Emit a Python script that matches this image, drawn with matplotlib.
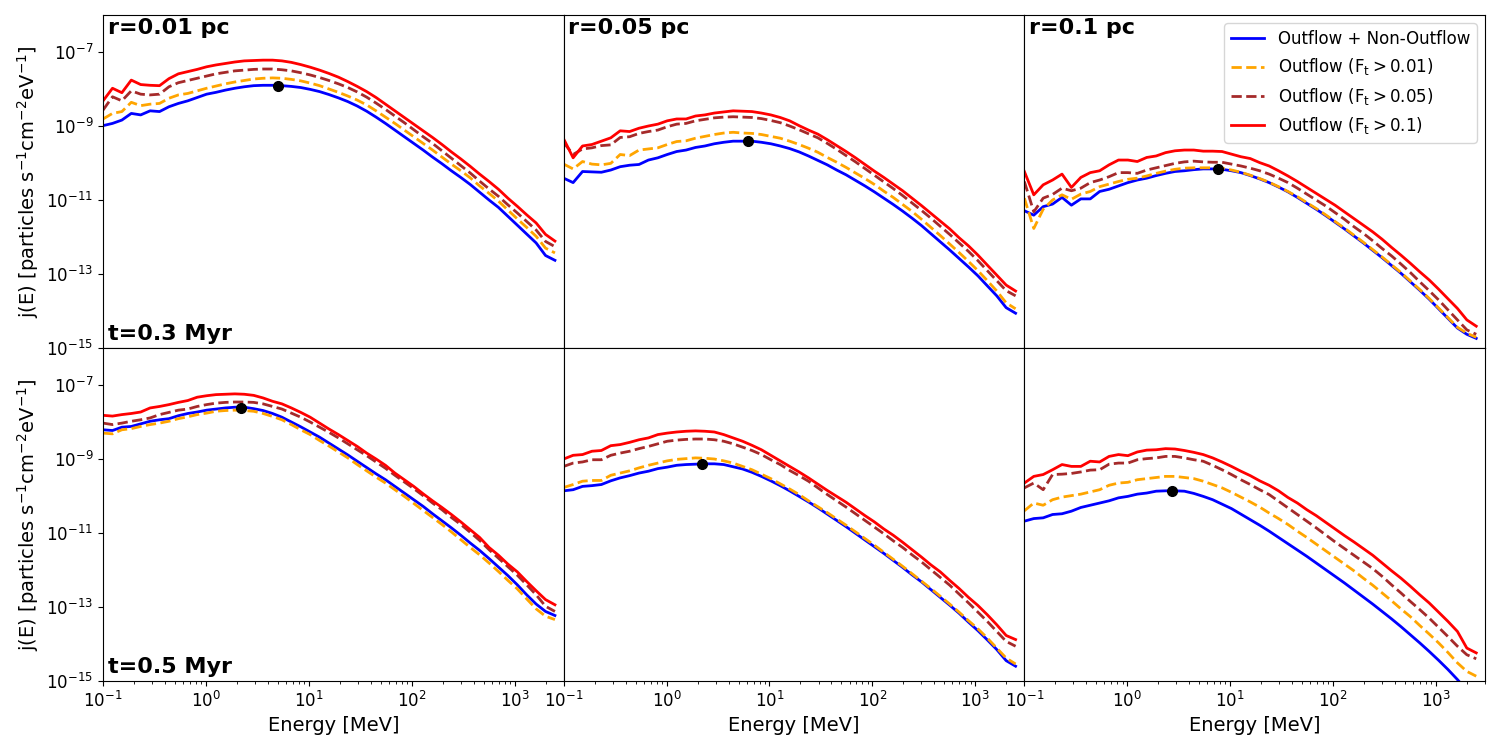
import numpy as np
import matplotlib.pyplot as plt
from matplotlib.ticker import NullLocator

# energy grid [MeV]
energy = [0.1, 0.1235, 0.1524, 0.1881, 0.2323, 0.2867, 0.3540, 0.4370, 0.5395, 0.6660,
          0.8222, 1.015, 1.253, 1.547, 1.910, 2.358, 2.911, 3.593, 4.436, 5.476,
          6.760, 8.346, 10.30, 12.72, 15.70, 19.39, 23.93, 29.54, 36.47, 45.03,
          55.58, 68.62, 84.71, 104.6, 129.1, 159.4, 196.8, 242.9, 299.9, 370.2,
          457.0, 564.2, 696.5, 859.9, 1062, 1310, 1618, 1997, 2466]

# log10 j(E), r=0.01 pc, t=0.3 Myr
r001_t03_all = [-8.99, -8.93, -8.84, -8.66, -8.70, -8.59, -8.61, -8.48, -8.39, -8.32,
                -8.23, -8.14, -8.09, -8.03, -7.98, -7.94, -7.91, -7.90, -7.90, -7.91,
                -7.93, -7.96, -8.01, -8.07, -8.15, -8.24, -8.34, -8.46, -8.60, -8.76,
                -8.93, -9.11, -9.29, -9.47, -9.65, -9.84, -10.02, -10.21, -10.39, -10.58,
                -10.79, -11.00, -11.20, -11.44, -11.68, -11.92, -12.16, -12.50, -12.63]
r001_t03_f001 = [-8.81, -8.66, -8.61, -8.36, -8.45, -8.41, -8.39, -8.25, -8.16, -8.12,
                 -8.05, -7.98, -7.92, -7.86, -7.81, -7.77, -7.73, -7.71, -7.70, -7.71,
                 -7.74, -7.78, -7.84, -7.91, -8.00, -8.09, -8.19, -8.30, -8.43, -8.59,
                 -8.76, -8.93, -9.11, -9.29, -9.47, -9.65, -9.84, -10.03, -10.21, -10.40,
                 -10.62, -10.82, -11.03, -11.27, -11.51, -11.74, -11.98, -12.30, -12.43]
r001_t03_f005 = [-8.57, -8.21, -8.32, -8.05, -8.14, -8.16, -8.14, -7.94, -7.83, -7.77,
                 -7.71, -7.65, -7.59, -7.55, -7.51, -7.49, -7.47, -7.46, -7.46, -7.48,
                 -7.51, -7.56, -7.62, -7.69, -7.77, -7.86, -7.96, -8.08, -8.22, -8.38,
                 -8.55, -8.73, -8.91, -9.10, -9.29, -9.47, -9.67, -9.87, -10.07, -10.27,
                 -10.49, -10.70, -10.90, -11.13, -11.35, -11.58, -11.81, -12.12, -12.26]
r001_t03_f01 = [-8.32, -7.98, -8.10, -7.76, -7.88, -7.90, -7.91, -7.72, -7.59, -7.53,
                -7.47, -7.40, -7.35, -7.31, -7.27, -7.24, -7.23, -7.22, -7.22, -7.24,
                -7.28, -7.34, -7.41, -7.49, -7.58, -7.68, -7.80, -7.93, -8.07, -8.23,
                -8.41, -8.59, -8.77, -8.95, -9.13, -9.31, -9.50, -9.70, -9.89, -10.09,
                -10.30, -10.50, -10.71, -10.95, -11.17, -11.40, -11.62, -11.93, -12.11]

# r=0.05 pc, t=0.3 Myr
r005_t03_all = [-10.41, -10.53, -10.23, -10.24, -10.25, -10.19, -10.10, -10.06, -10.04, -9.92,
                -9.86, -9.77, -9.69, -9.65, -9.58, -9.54, -9.48, -9.44, -9.41, -9.41,
                -9.41, -9.44, -9.48, -9.54, -9.61, -9.70, -9.81, -9.93, -10.05, -10.19,
                -10.32, -10.47, -10.62, -10.78, -10.95, -11.12, -11.30, -11.49, -11.69, -11.91,
                -12.13, -12.35, -12.58, -12.81, -13.05, -13.32, -13.59, -13.91, -14.06]
r005_t03_f001 = [-10.03, -10.16, -9.96, -10.03, -10.05, -10.01, -9.77, -9.80, -9.65, -9.62,
                 -9.59, -9.50, -9.42, -9.40, -9.33, -9.28, -9.23, -9.19, -9.17, -9.19,
                 -9.20, -9.23, -9.28, -9.33, -9.41, -9.50, -9.60, -9.71, -9.85, -9.98,
                 -10.12, -10.27, -10.42, -10.58, -10.76, -10.93, -11.12, -11.31, -11.52, -11.74,
                 -11.96, -12.19, -12.42, -12.66, -12.91, -13.18, -13.46, -13.78, -13.94]
r005_t03_f005 = [-9.45, -9.77, -9.62, -9.59, -9.53, -9.51, -9.31, -9.29, -9.20, -9.15,
                 -9.11, -9.02, -8.95, -8.93, -8.86, -8.82, -8.78, -8.76, -8.75, -8.76,
                 -8.77, -8.80, -8.85, -8.91, -9.00, -9.10, -9.21, -9.32, -9.47, -9.63,
                 -9.80, -9.97, -10.15, -10.33, -10.51, -10.69, -10.88, -11.08, -11.28, -11.49,
                 -11.71, -11.93, -12.16, -12.39, -12.64, -12.91, -13.18, -13.45, -13.59]
r005_t03_f01 = [-9.35, -9.86, -9.54, -9.50, -9.41, -9.32, -9.13, -9.15, -9.06, -9.00,
                -8.95, -8.86, -8.81, -8.81, -8.73, -8.70, -8.65, -8.62, -8.59, -8.60,
                -8.61, -8.65, -8.70, -8.77, -8.86, -8.99, -9.11, -9.22, -9.37, -9.53,
                -9.69, -9.86, -10.04, -10.22, -10.39, -10.57, -10.75, -10.95, -11.15, -11.36,
                -11.57, -11.78, -12.02, -12.24, -12.49, -12.76, -13.03, -13.30, -13.46]

# r=0.1 pc, t=0.3 Myr
r01_t03_all = [-11.29, -11.41, -11.18, -11.11, -10.93, -11.14, -10.97, -10.97, -10.77, -10.71,
               -10.62, -10.53, -10.46, -10.41, -10.34, -10.28, -10.23, -10.21, -10.18, -10.16,
               -10.16, -10.17, -10.21, -10.26, -10.34, -10.43, -10.53, -10.65, -10.78, -10.93,
               -11.09, -11.25, -11.42, -11.60, -11.78, -11.97, -12.16, -12.36, -12.56, -12.77,
               -12.98, -13.21, -13.44, -13.68, -13.94, -14.20, -14.46, -14.63, -14.74]
r01_t03_f001 = [-10.95, -11.77, -11.25, -11.00, -10.86, -10.98, -10.84, -10.77, -10.64, -10.57,
                -10.50, -10.44, -10.41, -10.35, -10.28, -10.22, -10.17, -10.14, -10.13, -10.13,
                -10.13, -10.14, -10.19, -10.25, -10.33, -10.42, -10.52, -10.64, -10.77, -10.91,
                -11.07, -11.23, -11.40, -11.58, -11.76, -11.95, -12.14, -12.34, -12.54, -12.75,
                -12.96, -13.19, -13.42, -13.66, -13.92, -14.18, -14.44, -14.60, -14.71]
r01_t03_f005 = [-10.50, -11.32, -10.95, -10.85, -10.68, -10.75, -10.68, -10.53, -10.46, -10.37,
                -10.26, -10.26, -10.28, -10.19, -10.13, -10.07, -10.01, -9.97, -9.95, -9.97,
                -9.98, -9.98, -10.03, -10.08, -10.14, -10.21, -10.30, -10.41, -10.53, -10.68,
                -10.84, -11.00, -11.16, -11.34, -11.52, -11.72, -11.90, -12.10, -12.31, -12.51,
                -12.73, -12.96, -13.21, -13.45, -13.70, -13.97, -14.24, -14.51, -14.63]
r01_t03_f01 = [-10.23, -10.86, -10.59, -10.46, -10.30, -10.66, -10.39, -10.26, -10.21, -10.05,
               -9.92, -9.92, -9.96, -9.85, -9.81, -9.72, -9.67, -9.65, -9.65, -9.68,
               -9.68, -9.69, -9.76, -9.83, -9.88, -9.99, -10.08, -10.21, -10.35, -10.50,
               -10.66, -10.82, -10.98, -11.14, -11.32, -11.50, -11.68, -11.86, -12.06, -12.28,
               -12.49, -12.71, -12.94, -13.16, -13.41, -13.67, -13.93, -14.24, -14.41]

# r=0.01 pc, t=0.5 Myr
r001_t05_all = [-8.21, -8.23, -8.14, -8.12, -8.05, -7.98, -7.94, -7.91, -7.83, -7.77,
                -7.73, -7.68, -7.65, -7.62, -7.60, -7.60, -7.64, -7.69, -7.77, -7.87,
                -8.00, -8.13, -8.27, -8.41, -8.57, -8.73, -8.89, -9.06, -9.23, -9.40,
                -9.56, -9.74, -9.92, -10.10, -10.28, -10.48, -10.67, -10.86, -11.06, -11.27,
                -11.47, -11.69, -11.92, -12.15, -12.40, -12.67, -12.92, -13.12, -13.23]
r001_t05_f001 = [-8.30, -8.32, -8.21, -8.18, -8.12, -8.07, -8.03, -7.98, -7.91, -7.86,
                 -7.80, -7.76, -7.71, -7.69, -7.68, -7.69, -7.71, -7.77, -7.85, -7.94,
                 -8.07, -8.21, -8.34, -8.50, -8.65, -8.81, -8.97, -9.15, -9.32, -9.49,
                 -9.65, -9.83, -10.01, -10.20, -10.39, -10.58, -10.77, -10.97, -11.18, -11.39,
                 -11.59, -11.81, -12.04, -12.28, -12.51, -12.78, -13.05, -13.25, -13.34]
r001_t05_f005 = [-8.03, -8.07, -8.03, -7.98, -7.94, -7.89, -7.80, -7.74, -7.68, -7.65,
                 -7.58, -7.53, -7.49, -7.47, -7.46, -7.46, -7.47, -7.51, -7.58, -7.65,
                 -7.76, -7.87, -8.00, -8.14, -8.28, -8.43, -8.59, -8.75, -8.91, -9.08,
                 -9.25, -9.44, -9.62, -9.80, -9.99, -10.19, -10.37, -10.58, -10.77, -10.98,
                 -11.20, -11.45, -11.68, -11.91, -12.14, -12.40, -12.67, -12.98, -13.12]
r001_t05_f01 = [-7.82, -7.84, -7.80, -7.77, -7.73, -7.62, -7.58, -7.53, -7.47, -7.42,
                -7.33, -7.29, -7.26, -7.25, -7.24, -7.25, -7.28, -7.35, -7.44, -7.51,
                -7.62, -7.74, -7.87, -8.03, -8.19, -8.34, -8.50, -8.66, -8.84, -9.00,
                -9.17, -9.38, -9.56, -9.74, -9.94, -10.13, -10.31, -10.50, -10.70, -10.91,
                -11.12, -11.39, -11.60, -11.84, -12.05, -12.31, -12.56, -12.80, -12.94]

# r=0.05 pc, t=0.5 Myr
r005_t05_all = [-9.86, -9.83, -9.74, -9.72, -9.69, -9.59, -9.51, -9.45, -9.38, -9.33,
                -9.26, -9.22, -9.17, -9.15, -9.14, -9.13, -9.13, -9.15, -9.21, -9.27,
                -9.36, -9.47, -9.59, -9.72, -9.86, -10.01, -10.16, -10.32, -10.49, -10.66,
                -10.83, -11.01, -11.19, -11.37, -11.55, -11.74, -11.93, -12.13, -12.32, -12.53,
                -12.74, -12.95, -13.17, -13.41, -13.64, -13.89, -14.15, -14.45, -14.60]
r005_t05_f001 = [-9.77, -9.69, -9.60, -9.58, -9.58, -9.44, -9.38, -9.32, -9.24, -9.17,
                 -9.11, -9.05, -9.01, -8.99, -8.97, -8.98, -9.00, -9.05, -9.11, -9.20,
                 -9.29, -9.41, -9.53, -9.67, -9.81, -9.96, -10.13, -10.29, -10.45, -10.62,
                 -10.79, -10.97, -11.15, -11.33, -11.52, -11.71, -11.90, -12.10, -12.30, -12.50,
                 -12.71, -12.92, -13.14, -13.37, -13.59, -13.84, -14.11, -14.38, -14.54]
r005_t05_f005 = [-9.20, -9.11, -9.08, -9.02, -9.02, -8.90, -8.84, -8.79, -8.72, -8.66,
                 -8.59, -8.52, -8.49, -8.47, -8.46, -8.46, -8.48, -8.52, -8.59, -8.68,
                 -8.77, -8.88, -9.02, -9.15, -9.31, -9.45, -9.60, -9.78, -9.96, -10.13,
                 -10.30, -10.48, -10.66, -10.84, -11.02, -11.21, -11.39, -11.59, -11.78, -11.99,
                 -12.20, -12.41, -12.65, -12.89, -13.14, -13.39, -13.66, -13.93, -14.06]
r005_t05_f01 = [-9.00, -8.90, -8.88, -8.79, -8.77, -8.64, -8.61, -8.55, -8.48, -8.43,
                -8.34, -8.30, -8.27, -8.25, -8.24, -8.25, -8.27, -8.34, -8.43, -8.52,
                -8.63, -8.75, -8.90, -9.05, -9.20, -9.35, -9.51, -9.68, -9.85, -10.01,
                -10.17, -10.35, -10.53, -10.70, -10.89, -11.06, -11.25, -11.45, -11.65, -11.86,
                -12.05, -12.28, -12.50, -12.74, -12.96, -13.21, -13.48, -13.77, -13.88]

# r=0.1 pc, t=0.5 Myr
r01_t05_all = [-10.68, -10.61, -10.59, -10.50, -10.48, -10.41, -10.31, -10.25, -10.19, -10.13,
               -10.05, -10.01, -9.95, -9.92, -9.87, -9.86, -9.86, -9.87, -9.93, -10.01,
               -10.10, -10.22, -10.34, -10.49, -10.64, -10.79, -10.95, -11.12, -11.29, -11.46,
               -11.63, -11.81, -11.99, -12.17, -12.35, -12.54, -12.73, -12.92, -13.12, -13.32,
               -13.53, -13.75, -13.97, -14.20, -14.44, -14.69, -14.96, -15.25, -15.55]
r01_t05_f001 = [-10.40, -10.19, -10.25, -10.10, -10.03, -9.99, -9.95, -9.89, -9.83, -9.71,
                -9.65, -9.63, -9.56, -9.53, -9.50, -9.47, -9.47, -9.50, -9.53, -9.60,
                -9.69, -9.78, -9.90, -10.03, -10.16, -10.30, -10.46, -10.61, -10.77, -10.95,
                -11.12, -11.30, -11.48, -11.66, -11.84, -12.02, -12.22, -12.41, -12.62, -12.83,
                -13.05, -13.26, -13.50, -13.73, -13.97, -14.23, -14.51, -14.74, -14.87]
r01_t05_f005 = [-9.78, -9.65, -9.83, -9.42, -9.41, -9.39, -9.35, -9.30, -9.29, -9.14,
                -9.11, -9.11, -9.02, -8.99, -8.97, -8.93, -8.93, -8.97, -9.02, -9.06,
                -9.17, -9.29, -9.42, -9.56, -9.69, -9.83, -9.96, -10.14, -10.32, -10.50,
                -10.68, -10.86, -11.05, -11.24, -11.42, -11.60, -11.78, -11.96, -12.17, -12.40,
                -12.62, -12.85, -13.07, -13.30, -13.55, -13.80, -14.06, -14.29, -14.40]
r01_t05_f01 = [-9.65, -9.47, -9.42, -9.29, -9.15, -9.20, -9.20, -9.06, -9.08, -8.93,
               -8.88, -8.91, -8.81, -8.76, -8.75, -8.72, -8.73, -8.77, -8.82, -8.88,
               -8.97, -9.08, -9.20, -9.33, -9.45, -9.59, -9.71, -9.86, -10.04, -10.19,
               -10.37, -10.53, -10.71, -10.89, -11.07, -11.24, -11.42, -11.60, -11.81, -12.02,
               -12.22, -12.44, -12.67, -12.89, -13.14, -13.39, -13.66, -14.11, -14.24]

# peak of total spectrum, per panel (row-major)
peak_energy = [5.0, 6.2, 7.7, 2.2, 2.2, 2.75]
peak_logj = [-7.92, -9.41, -10.17, -7.61, -9.14, -9.86]

radius_labels = ['r=0.01 pc', 'r=0.05 pc', 'r=0.1 pc']
time_labels = ['t=0.3 Myr', 't=0.5 Myr']

panels = [
    [(r001_t03_all, r001_t03_f001, r001_t03_f005, r001_t03_f01),
     (r005_t03_all, r005_t03_f001, r005_t03_f005, r005_t03_f01),
     (r01_t03_all, r01_t03_f001, r01_t03_f005, r01_t03_f01)],
    [(r001_t05_all, r001_t05_f001, r001_t05_f005, r001_t05_f01),
     (r005_t05_all, r005_t05_f001, r005_t05_f005, r005_t05_f01),
     (r01_t05_all, r01_t05_f001, r01_t05_f005, r01_t05_f01)],
]

fig, axes = plt.subplots(2, 3, figsize=(15, 7.5), sharex=True, sharey=True)
plt.subplots_adjust(left=0.0687, right=0.99, top=0.98, bottom=0.092, wspace=0, hspace=0)

for row in range(2):
    for col in range(3):
        ax = axes[row, col]
        tot, f001, f005, f01 = panels[row][col]
        ax.plot(energy, 10**np.array(tot), color='blue', lw=2, label='Outflow + Non-Outflow')
        ax.plot(energy, 10**np.array(f001), color='orange', ls='--', lw=2,
                label=r'Outflow ($\mathrm{F_t > 0.01}$)')
        ax.plot(energy, 10**np.array(f005), color='brown', ls='--', lw=2,
                label=r'Outflow ($\mathrm{F_t > 0.05}$)')
        ax.plot(energy, 10**np.array(f01), color='red', lw=2,
                label=r'Outflow ($\mathrm{F_t > 0.1}$)')
        k = row * 3 + col
        ax.plot(peak_energy[k], 10**peak_logj[k], 'o', color='black', ms=7, zorder=5)

        ax.set_xscale('log')
        ax.set_yscale('log')
        ax.set_xlim(0.1, 3000)
        ax.set_ylim(1e-15, 1e-6)
        ax.set_yticks([1e-15, 1e-13, 1e-11, 1e-9, 1e-7])
        ax.yaxis.set_minor_locator(NullLocator())
        ax.tick_params(labelsize=12)

        # inner panels carry no tick marks
        if col > 0:
            ax.tick_params(axis='y', which='both', left=False)
        if row == 0:
            ax.tick_params(axis='x', which='both', bottom=False)

        if row == 0:
            ax.text(0.01, 0.99, radius_labels[col], transform=ax.transAxes,
                    ha='left', va='top', fontsize=16, fontweight='bold')
        if col == 0:
            ax.text(0.01, 0.012, time_labels[row], transform=ax.transAxes,
                    ha='left', va='bottom', fontsize=16, fontweight='bold')
            ax.set_ylabel(r'j(E) [particles s$^{-1}$cm$^{-2}$eV$^{-1}$]', fontsize=14)
        if row == 1:
            ax.set_xlabel('Energy [MeV]', fontsize=14)

axes[0, 2].legend(loc='upper right', fontsize=12)

plt.savefig('out.png', dpi=100)
